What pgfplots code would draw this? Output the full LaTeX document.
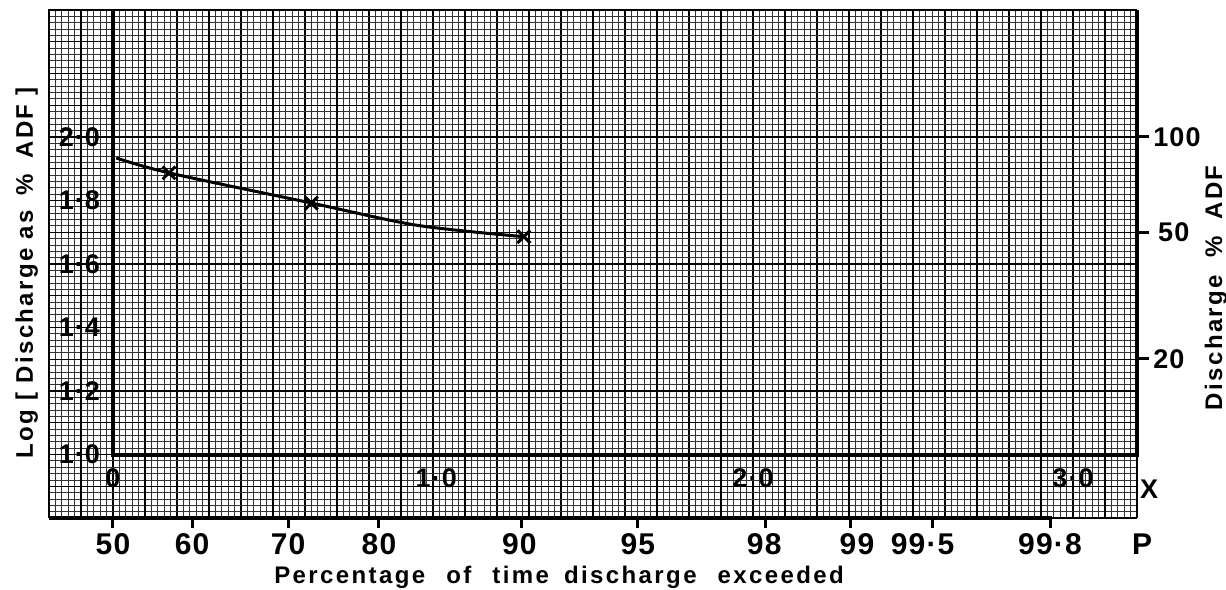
\documentclass[border=0pt]{standalone}
\usepackage{fontspec}
\setmainfont{Liberation Sans}
\newfontfamily\labA[LetterSpace=10]{Liberation Sans}
\newfontfamily\labB[LetterSpace=4]{Liberation Sans}
\usepackage{pgfplots}
\pgfplotsset{compat=1.18}
\newcommand{\fTick}{\labB\bfseries\fontsize{13.5}{15}\selectfont}
\newcommand{\fP}{\labB\bfseries\fontsize{15}{17}\selectfont}
\newcommand{\fTitle}{\labA\bfseries\fontsize{12}{14}\selectfont}
\newcommand{\fLab}{\labA\bfseries\fontsize{12}{14}\selectfont}
\begin{document}
\begin{tikzpicture}
\useasboundingbox (-24.5pt,-35.5pt) rectangle (588.5pt,259pt);
\begin{axis}[at={(0,0)}, anchor=south west,
  scale only axis, width=544pt, height=254pt,
  xmin=-0.2, xmax=3.2, ymin=0.8, ymax=2.4, clip=false,
  xtick distance=0.2, ytick distance=0.2,
  minor x tick num=9, minor y tick num=9,
  extra x ticks={-0.1,0.1,...,3.1}, extra y ticks={0.9,1.1,...,2.3},
  xticklabels={}, yticklabels={}, extra x tick labels={}, extra y tick labels={},
  grid=both,
  major grid style={line width=0.9pt, black},
  minor grid style={line width=0.4pt, black!80},
  extra x tick style={grid=major, major grid style={line width=0.6pt, black}},
  extra y tick style={grid=major, major grid style={line width=0.6pt, black}},
  major tick length=0pt, minor tick length=0pt, tick style={draw=none},
  axis line style={draw=none}]

% data curve
\addplot[black, line width=1.5pt, smooth, tension=0.5] coordinates {
  (0.01,1.934) (0.175,1.887) (0.62,1.792) (0.95,1.722) (1.284,1.686)};
\addplot[only marks, mark=x, mark size=4.5pt, line width=1.5pt, black] coordinates {
  (0.175,1.887) (0.62,1.792) (1.284,1.686)};

% paper edges and heavy frame lines
\draw[line width=0.9pt] (axis cs:-0.2,0.8) -- (axis cs:-0.2,2.4) -- (axis cs:3.2,2.4);
\draw[line width=2pt] (axis cs:0,2.4) -- (axis cs:0,1.0) -- (axis cs:3.2,1.0) -- (axis cs:3.2,2.4);
\draw[line width=0.9pt] (axis cs:3.2,1.0) -- (axis cs:3.2,0.8);
\draw[line width=2pt] (axis cs:-0.2,0.8) -- (axis cs:2.935,0.8);
\draw[line width=0.6pt] (axis cs:2.935,0.8) -- (axis cs:3.2,0.8);
% P ticks
\pgfplotsinvokeforeach{0,0.247,0.547,0.831,1.275,1.64,2.04,2.306,2.562,2.931}{
  \draw[line width=1.5pt] (axis cs:#1,0.8) -- (axis cs:#1,0.77);
}
% right ticks
\pgfplotsinvokeforeach{2.0,1.699,1.301}{
  \draw[line width=1.5pt] (axis cs:3.2,#1) -- (axis cs:3.237,#1);
}

% left tick labels
\node[font=\fTick] at (axis cs:-0.105,2.0) {2·0};
\node[font=\fTick] at (axis cs:-0.105,1.8) {1·8};
\node[font=\fTick] at (axis cs:-0.105,1.6) {1·6};
\node[font=\fTick] at (axis cs:-0.105,1.4) {1·4};
\node[font=\fTick] at (axis cs:-0.105,1.2) {1·2};
\node[font=\fTick] at (axis cs:-0.105,1.0) {1·0};
% X labels
\node[font=\fTick] at (axis cs:0,0.925) {0};
\node[font=\fTick] at (axis cs:1.01,0.925) {1·0};
\node[font=\fTick] at (axis cs:2.0,0.925) {2·0};
\node[font=\fTick] at (axis cs:3.0,0.925) {3·0};
\node[font=\fTick] at (axis cs:3.2375,0.89) {X};
% P labels
\node[font=\fP, anchor=base] at (axis cs:0,0.686) {50};
\node[font=\fP, anchor=base] at (axis cs:0.247,0.686) {60};
\node[font=\fP, anchor=base] at (axis cs:0.547,0.686) {70};
\node[font=\fP, anchor=base] at (axis cs:0.831,0.686) {80};
\node[font=\fP, anchor=base] at (axis cs:1.27,0.686) {90};
\node[font=\fP, anchor=base] at (axis cs:1.64,0.686) {95};
\node[font=\fP, anchor=base] at (axis cs:2.035,0.686) {98};
\node[font=\fP, anchor=base] at (axis cs:2.325,0.686) {99};
\node[font=\fP, anchor=base] at (axis cs:2.53,0.686) {99·5};
\node[font=\fP, anchor=base] at (axis cs:2.928,0.686) {99·8};
\node[font=\fP, anchor=base] at (axis cs:3.216,0.686) {P};
% right labels
\node[font=\fTick, anchor=west, inner sep=0pt] at (axis cs:3.25,2.0) {100};
\node[font=\fTick, anchor=west, inner sep=0pt] at (axis cs:3.265,1.699) {50};
\node[font=\fTick, anchor=west, inner sep=0pt] at (axis cs:3.25,1.301) {20};
% axis titles
\node[font=\fTitle, anchor=base] at (axis cs:1.394,0.594) {Percentage\hspace{6pt} of\hspace{6pt} time\hspace{3pt} discharge\hspace{6pt} exceeded};
\node[font=\fLab, rotate=90] at (axis cs:-0.27,1.572) {Log [ Discharge as\hspace{3pt} \%\hspace{3pt} ADF ]};
\node[font=\fLab, rotate=90] at (axis cs:3.447,1.525) {Discharge\hspace{4pt} \%\hspace{4pt} ADF};
\end{axis}
\end{tikzpicture}
\end{document}
